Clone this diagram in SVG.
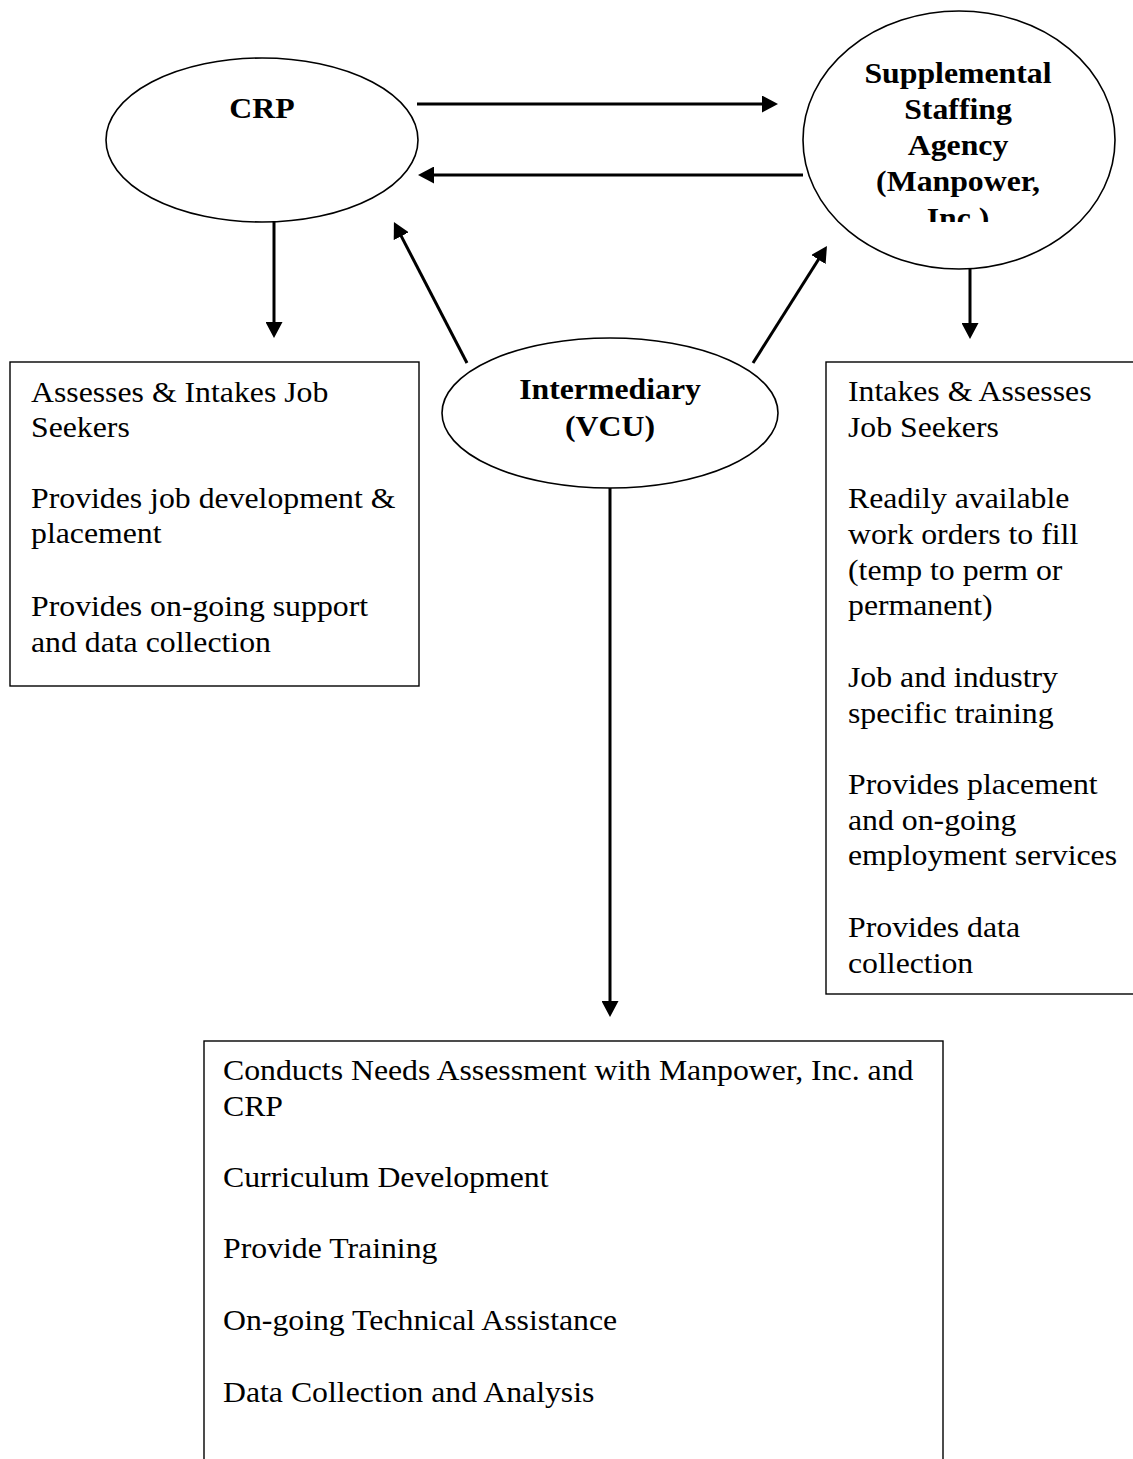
<svg xmlns="http://www.w3.org/2000/svg" width="1133" height="1459" viewBox="0 0 1133 1459">
<style>
.shape{fill:#fff;stroke:#000;stroke-width:1.6}
.box{fill:#fff;stroke:#000;stroke-width:1.4}
.t{font-family:"Liberation Serif","Times New Roman",serif;font-size:28.5px;fill:#000}
.b{font-family:"Liberation Serif","Times New Roman",serif;font-size:28.5px;font-weight:bold;fill:#000;text-anchor:middle}
.conn line{stroke:#000;stroke-width:3;marker-end:url(#ah)}
</style>
<defs>
<marker id="ah" markerUnits="userSpaceOnUse" markerWidth="17" markerHeight="17" refX="8" refY="8.5" orient="auto">
<path d="M0,0 L16,8.5 L0,17 Z" fill="#000"/>
</marker>
<clipPath id="suppClip"><rect x="800" y="0" width="330" height="222"/></clipPath>
</defs>
<rect width="1133" height="1459" fill="#fff"/>

<g id="crp">
<ellipse class="shape" cx="262" cy="140" rx="156" ry="82"/>
<g transform="translate(262 0) scale(1.115 1)"><text class="b" x="0" y="118">CRP</text></g>
</g>

<g id="supplemental">
<ellipse class="shape" cx="959" cy="140" rx="156" ry="129"/>
<g clip-path="url(#suppClip)">
<g transform="translate(958 0) scale(1.115 1)">
<text class="b" x="0" y="83">Supplemental</text>
<text class="b" x="0" y="119">Staffing</text>
<text class="b" x="0" y="155">Agency</text>
<text class="b" x="0" y="191">(Manpower,</text>
<text class="b" x="0" y="228">Inc.)</text>
</g>
</g>
</g>

<g id="intermediary">
<ellipse class="shape" cx="610" cy="413" rx="168" ry="75"/>
<g transform="translate(610 0) scale(1.115 1)">
<text class="b" x="0" y="399">Intermediary</text>
<text class="b" x="0" y="436">(VCU)</text>
</g>
</g>

<g id="crp-box">
<rect class="box" x="10" y="362" width="409" height="324"/>
<g transform="translate(31 0) scale(1.115 1)">
<text class="t" x="0" y="402">Assesses &amp; Intakes Job</text>
<text class="t" x="0" y="437">Seekers</text>
<text class="t" x="0" y="508">Provides job development &amp;</text>
<text class="t" x="0" y="543">placement</text>
<text class="t" x="0" y="616">Provides on-going support</text>
<text class="t" x="0" y="652">and data collection</text>
</g>
</g>

<g id="agency-box">
<rect class="box" x="826" y="362" width="330" height="632"/>
<g transform="translate(848 0) scale(1.115 1)">
<text class="t" x="0" y="401">Intakes &amp; Assesses</text>
<text class="t" x="0" y="437">Job Seekers</text>
<text class="t" x="0" y="508">Readily available</text>
<text class="t" x="0" y="544">work orders to fill</text>
<text class="t" x="0" y="580">(temp to perm or</text>
<text class="t" x="0" y="615">permanent)</text>
<text class="t" x="0" y="687">Job and industry</text>
<text class="t" x="0" y="723">specific training</text>
<text class="t" x="0" y="794">Provides placement</text>
<text class="t" x="0" y="830">and on-going</text>
<text class="t" x="0" y="865">employment services</text>
<text class="t" x="0" y="937">Provides data</text>
<text class="t" x="0" y="973">collection</text>
</g>
</g>

<g id="intermediary-box">
<rect class="box" x="204" y="1041" width="739" height="440"/>
<g transform="translate(223 0) scale(1.115 1)">
<text class="t" x="0" y="1080">Conducts Needs Assessment with Manpower, Inc. and</text>
<text class="t" x="0" y="1116">CRP</text>
<text class="t" x="0" y="1187">Curriculum Development</text>
<text class="t" x="0" y="1258">Provide Training</text>
<text class="t" x="0" y="1330">On-going Technical Assistance</text>
<text class="t" x="0" y="1402">Data Collection and Analysis</text>
</g>
</g>

<g id="connectors" class="conn">
<line x1="417" y1="104" x2="770" y2="104"/>
<line x1="803" y1="175" x2="426" y2="175"/>
<line x1="274" y1="221" x2="274" y2="330"/>
<line x1="970" y1="268" x2="970" y2="331"/>
<line x1="467" y1="363" x2="397.6" y2="229.1"/>
<line x1="753" y1="363" x2="822.7" y2="252.8"/>
<line x1="610" y1="488" x2="610" y2="1009"/>
</g>
</svg>
